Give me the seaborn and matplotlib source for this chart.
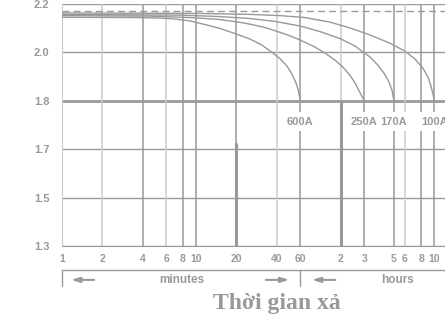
import numpy as np
import pandas as pd
import matplotlib
matplotlib.use("Agg")
import matplotlib.pyplot as plt
import seaborn as sns

# discharge curves: time in minutes, cell voltage in V
t_100a = [1, 10.7, 25.3, 42.4, 65.1, 100, 141, 199, 280, 363, 431, 494, 539, 567, 587, 600]
v_100a = [2.163, 2.161, 2.157, 2.152, 2.144, 2.125, 2.101, 2.072, 2.038, 2.005, 1.972,
          1.935, 1.897, 1.860, 1.827, 1.8]
t_170a = [1, 7.6, 15.1, 25.3, 38.9, 60, 84.2, 119, 154, 173, 199, 228, 253, 276, 290, 300]
v_170a = [2.157, 2.154, 2.148, 2.140, 2.128, 2.109, 2.086, 2.057, 2.026, 2.005, 1.981,
          1.947, 1.914, 1.877, 1.844, 1.8]
t_250a = [1, 4.54, 9.02, 15.1, 23.2, 32.7, 46.2, 60, 77.3, 91.8, 109, 125, 141, 154, 165,
          173, 180]
v_250a = [2.152, 2.150, 2.144, 2.136, 2.121, 2.103, 2.076, 2.051, 2.022, 1.997, 1.968,
          1.939, 1.905, 1.873, 1.840, 1.819, 1.8]
t_600a = [1, 3.82, 5.39, 6.97, 9.02, 11.7, 15.1, 19.5, 25.3, 31.1, 36.9, 42.4, 47.8, 52.0,
          55.8, 58.2, 60]
v_600a = [2.145, 2.144, 2.142, 2.138, 2.130, 2.115, 2.099, 2.078, 2.055, 2.030, 2.0, 1.974,
          1.943, 1.910, 1.873, 1.840, 1.8]
curve_names = ["100A", "170A", "250A", "600A"]

ref_voltage = 2.171
end_voltage = 1.8

y_ticks = [1.3, 1.5, 1.7, 1.8, 2.0, 2.2]
x_ticks = [1, 2, 4, 6, 8, 10, 20, 40, 60, 120, 180, 300, 360, 480, 600]
x_labels = ["1", "2", "4", "6", "8", "10", "20", "40", "60", "2", "3", "5", "6", "8", "10"]
light_lines = [1, 2, 6, 40, 120, 360]

GREY = "#999999"
LIGHT = "#cccccc"


def main():
    rows = []
    for name, ts, vs in zip(curve_names, [t_100a, t_170a, t_250a, t_600a],
                            [v_100a, v_170a, v_250a, v_600a]):
        for t, v in zip(ts, vs):
            rows.append({"t": t, "v": v, "curve": name})
    df = pd.DataFrame(rows)

    sns.set_style("white")
    plt.rcParams["font.family"] = ["Liberation Sans", "DejaVu Sans"]

    fig = plt.figure(figsize=(4.45, 3.27), dpi=100)
    ax = fig.add_axes([62 / 445, 81 / 327, 383 / 445, 242 / 327])

    pos = np.arange(len(y_ticks), dtype=float)

    def fwd(v):
        return np.interp(v, y_ticks, pos)

    def inv(p):
        return np.interp(p, pos, y_ticks)

    ax.set_xscale("log")
    ax.set_yscale("function", functions=(fwd, inv))
    ax.set_xlim(1, 721)
    ax.set_ylim(1.3, 2.2)

    # grid
    for v in y_ticks:
        ax.axhline(v, color=GREY, lw=2.0 if v == end_voltage else 1.0, zorder=1)
    for t in x_ticks:
        ax.axvline(t, color=LIGHT if t in light_lines else GREY, lw=1.1, zorder=1)
    ax.axvline(20, ymin=0, ymax=0.42, color=GREY, lw=2.2, zorder=1)
    ax.axvline(120, ymin=0, ymax=0.6, color=GREY, lw=2.2, zorder=1)
    ax.axhline(ref_voltage, color=GREY, lw=1.0, ls=(0, (5, 3)), zorder=2)

    sns.lineplot(data=df, x="t", y="v", hue="curve", sort=False,
                 palette=[GREY] * 4, lw=1.0, legend=False, ax=ax, zorder=3)

    # curve labels at end of discharge
    for name, ts in zip(curve_names, [t_100a, t_170a, t_250a, t_600a]):
        ax.text(ts[-1], 1.7565, name, ha="center", va="center", fontsize=8,
                fontweight="bold", color=GREY, zorder=4,
                bbox=dict(boxstyle="square,pad=0.4", fc="white", ec="none"))

    ax.set_xticks(x_ticks)
    ax.set_xticklabels(x_labels)
    ax.xaxis.set_minor_locator(matplotlib.ticker.NullLocator())
    ax.set_yticks(y_ticks)
    ax.set_yticklabels([f"{v:.1f}" for v in y_ticks])
    ax.tick_params(axis="both", length=0, colors=GREY)
    ax.tick_params(axis="y", pad=9, labelsize=8)
    ax.tick_params(axis="x", pad=6, labelsize=7.5)
    for lab in ax.get_yticklabels() + ax.get_xticklabels():
        lab.set_fontweight("bold")
    for s in ["top", "right"]:
        ax.spines[s].set_visible(False)
    ax.spines["left"].set_color(LIGHT)
    ax.spines["bottom"].set_color(GREY)
    ax.set_xlabel("")
    ax.set_ylabel("")

    # time unit bracket below the axis
    tr = ax.transAxes
    kw = dict(color=GREY, lw=1.0, transform=tr, clip_on=False)
    ax.plot([0, 1.02], [-0.099, -0.099], **kw)
    ax.plot([0, 0], [-0.099, -0.165], **kw)
    ax.plot([0.622, 0.622], [-0.099, -0.165], **kw)
    arrow = dict(arrowstyle="-|>,head_length=0.5,head_width=0.15", color=GREY, lw=1.5)
    ax.annotate("", xy=(0.016, -0.14), xytext=(0.091, -0.14), xycoords=tr, arrowprops=arrow)
    ax.annotate("", xy=(0.601, -0.14), xytext=(0.525, -0.14), xycoords=tr, arrowprops=arrow)
    ax.annotate("", xy=(0.645, -0.14), xytext=(0.721, -0.14), xycoords=tr, arrowprops=arrow)
    ax.text(0.313, -0.14, "minutes", transform=tr, ha="center", va="center",
            fontsize=8.5, fontweight="bold", color=GREY)
    ax.text(0.875, -0.14, "hours", transform=tr, ha="center", va="center",
            fontsize=8.5, fontweight="bold", color=GREY)
    ax.text(0.561, -0.236, "Thời gian xả", transform=tr, ha="center", va="center",
            fontsize=17, fontweight="bold", color=GREY,
            family=["Liberation Serif", "DejaVu Serif"])

    fig.savefig("out.png", dpi=100)


if __name__ == "__main__":
    main()
